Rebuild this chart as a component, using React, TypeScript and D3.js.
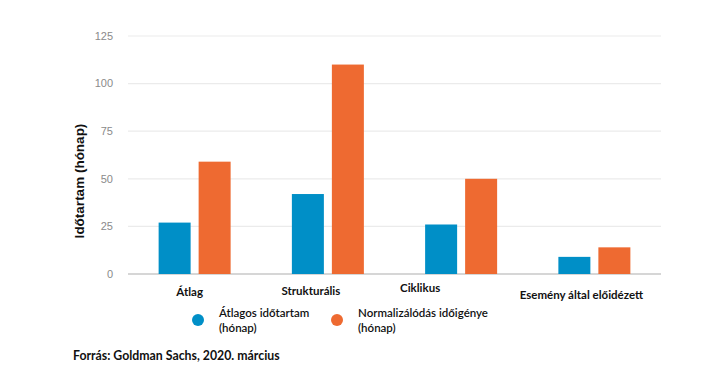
import React from "react";
import * as d3 from "d3";

const categories = ["Átlag", "Strukturális", "Ciklikus", "Esemény által előidézett"];
const avgDuration = [27, 42, 26, 9];
const normalization = [59, 110, 50, 14];
const yTicks = [0, 25, 50, 75, 100, 125];
const seriesNames = [["Átlagos időtartam", "(hónap)"], ["Normalizálódás időigénye", "(hónap)"]];
const colors = ["#008fc7", "#ee6a31"];
const labelOffsets = [[-5, 18], [-17, 17], [-41, 14], [-13, 21]];

const W = 723, H = 383;
const margin = { left: 128, right: 62, top: 36, bottom: 109 };

export default function App() {
  const x = d3.scaleBand<string>().domain(categories).range([margin.left, W - margin.right]).padding(0);
  const y = d3.scaleLinear().domain([0, 125]).range([H - margin.bottom, margin.top]);
  const barW = 32, gap = 8;
  const series = [avgDuration, normalization];
  const calibri = "Lato, 'Open Sans', sans-serif";
  return (
    <div style={{ margin: -8 }}>
      <svg width={W} height={H} style={{ display: "block", background: "#fff" }}>
        {yTicks.map((t) => (
          <g key={t}>
            <line x1={margin.left} x2={W - margin.right} y1={y(t)} y2={y(t)}
              stroke={t === 0 ? "#c8c8c8" : "#ebebeb"} strokeWidth={t === 0 ? 1.5 : 1.2} />
            <text x={113} y={y(t)} dy="0.35em" textAnchor="end" fontSize={11}
              fontFamily="'Liberation Sans', Arial, sans-serif" fill="#8a8a8a">{t}</text>
          </g>
        ))}
        {categories.map((c, i) => {
          const cx = (x(c) as number) + x.bandwidth() / 2;
          return (
            <g key={c}>
              {series.map((s, j) => {
                const bx = cx - gap / 2 - barW + j * (barW + gap);
                return <rect key={j} x={bx} y={y(s[i])} width={barW} height={y(0) - y(s[i])} fill={colors[j]} />;
              })}
              <text x={cx + labelOffsets[i][0]} y={y(0) + labelOffsets[i][1]} dy="0.35em" textAnchor="middle"
                fontSize={11.5} fontWeight={700} fontFamily={calibri} fill="#111">{c}</text>
            </g>
          );
        })}
        <text transform={`translate(84,${181}) rotate(-90)`} textAnchor="middle" fontSize={13.5} fontWeight={700}
          fontFamily="'Liberation Sans', Arial, sans-serif" fill="#111">Időtartam (hónap)</text>
        {seriesNames.map((n, j) => {
          const lx = [198, 337][j];
          return (
            <g key={j}>
              <circle cx={lx} cy={320} r={6} fill={colors[j]} />
              <text x={lx + 21} y={313} dy="0.35em" fontSize={11.5} fontWeight={600} fontFamily={calibri} fill="#111">{n[0]}</text>
              <text x={lx + 21} y={328} dy="0.35em" fontSize={11.5} fontWeight={600} fontFamily={calibri} fill="#111">{n[1]}</text>
            </g>
          );
        })}
        <text x={73} y={356} dy="0.35em" fontSize={12.3} fontWeight={700} fontFamily={calibri} fill="#111">
          Forrás: Goldman Sachs, 2020. március
        </text>
      </svg>
    </div>
  );
}
